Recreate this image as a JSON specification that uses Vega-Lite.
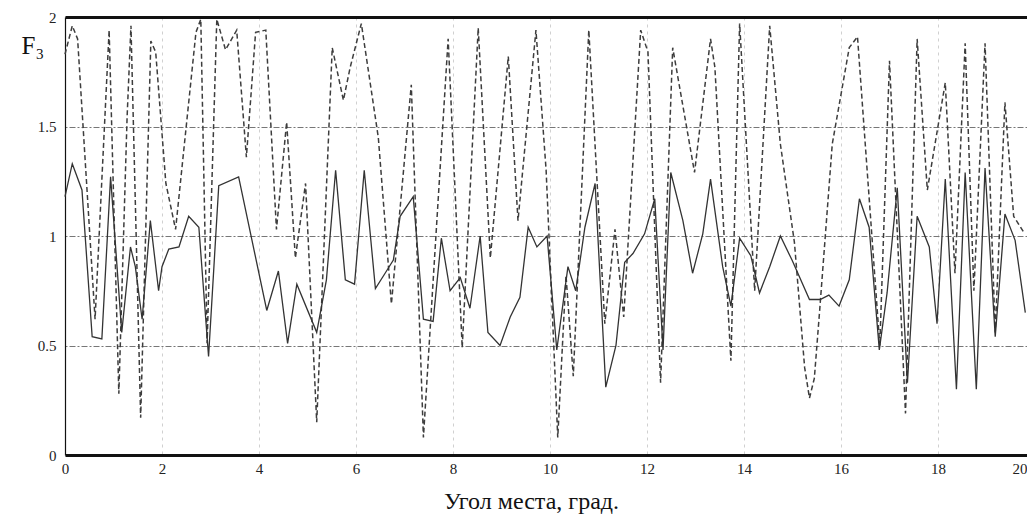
{
  "$schema": "https://vega.github.io/schema/vega-lite/v6.json",
  "width": 970,
  "height": 438,
  "autosize": {"type": "none"},
  "padding": {"left": 65, "top": 17, "right": 0, "bottom": 65},
  "background": "white",
  "config": {"view": {"stroke": null}},
  "datasets": {
    "solid": [
      {"x": 0, "y": 1.18}, {"x": 0.15, "y": 1.33}, {"x": 0.35, "y": 1.21}, {"x": 0.56, "y": 0.54}, {"x": 0.76, "y": 0.53},
      {"x": 0.94, "y": 1.27}, {"x": 1.17, "y": 0.56}, {"x": 1.35, "y": 0.95}, {"x": 1.45, "y": 0.86}, {"x": 1.59, "y": 0.62},
      {"x": 1.76, "y": 1.07}, {"x": 1.93, "y": 0.75}, {"x": 2.0, "y": 0.86}, {"x": 2.14, "y": 0.94}, {"x": 2.35, "y": 0.95},
      {"x": 2.55, "y": 1.09}, {"x": 2.76, "y": 1.04}, {"x": 2.96, "y": 0.45}, {"x": 3.17, "y": 1.23}, {"x": 3.58, "y": 1.27},
      {"x": 4.16, "y": 0.66}, {"x": 4.4, "y": 0.84}, {"x": 4.59, "y": 0.51}, {"x": 4.78, "y": 0.78}, {"x": 5.19, "y": 0.56},
      {"x": 5.39, "y": 0.8}, {"x": 5.58, "y": 1.3}, {"x": 5.78, "y": 0.8}, {"x": 5.97, "y": 0.78}, {"x": 6.17, "y": 1.3},
      {"x": 6.4, "y": 0.76}, {"x": 6.6, "y": 0.83}, {"x": 6.77, "y": 0.89}, {"x": 6.91, "y": 1.09}, {"x": 7.18, "y": 1.18},
      {"x": 7.39, "y": 0.62}, {"x": 7.59, "y": 0.61}, {"x": 7.76, "y": 0.99}, {"x": 7.94, "y": 0.75}, {"x": 8.15, "y": 0.81},
      {"x": 8.35, "y": 0.67}, {"x": 8.56, "y": 1.0}, {"x": 8.72, "y": 0.56}, {"x": 8.97, "y": 0.5}, {"x": 9.18, "y": 0.63},
      {"x": 9.38, "y": 0.72}, {"x": 9.55, "y": 1.04}, {"x": 9.73, "y": 0.95}, {"x": 9.94, "y": 1.0}, {"x": 10.14, "y": 0.48},
      {"x": 10.37, "y": 0.86}, {"x": 10.53, "y": 0.75}, {"x": 10.72, "y": 1.04}, {"x": 10.93, "y": 1.24}, {"x": 11.15, "y": 0.31},
      {"x": 11.36, "y": 0.5}, {"x": 11.54, "y": 0.88}, {"x": 11.71, "y": 0.92}, {"x": 11.95, "y": 1.01}, {"x": 12.16, "y": 1.17},
      {"x": 12.33, "y": 0.48}, {"x": 12.49, "y": 1.29}, {"x": 12.74, "y": 1.07}, {"x": 12.94, "y": 0.83}, {"x": 13.15, "y": 1.01},
      {"x": 13.31, "y": 1.26}, {"x": 13.56, "y": 0.86}, {"x": 13.73, "y": 0.68}, {"x": 13.91, "y": 0.99}, {"x": 14.14, "y": 0.91},
      {"x": 14.32, "y": 0.74}, {"x": 14.53, "y": 0.86}, {"x": 14.75, "y": 1.0}, {"x": 14.99, "y": 0.89}, {"x": 15.35, "y": 0.71},
      {"x": 15.57, "y": 0.71}, {"x": 15.75, "y": 0.73}, {"x": 15.96, "y": 0.68}, {"x": 16.17, "y": 0.8}, {"x": 16.38, "y": 1.17},
      {"x": 16.58, "y": 1.04}, {"x": 16.79, "y": 0.48}, {"x": 16.95, "y": 0.74}, {"x": 17.16, "y": 1.22}, {"x": 17.37, "y": 0.33},
      {"x": 17.57, "y": 1.09}, {"x": 17.82, "y": 0.95}, {"x": 17.98, "y": 0.6}, {"x": 18.15, "y": 1.26}, {"x": 18.38, "y": 0.3},
      {"x": 18.56, "y": 1.29}, {"x": 18.79, "y": 0.3}, {"x": 18.97, "y": 1.31}, {"x": 19.18, "y": 0.54}, {"x": 19.38, "y": 1.1},
      {"x": 19.59, "y": 0.98}, {"x": 19.8, "y": 0.65}
    ],
    "dashed": [
      {"x": 0, "y": 1.83}, {"x": 0.15, "y": 1.96}, {"x": 0.26, "y": 1.9}, {"x": 0.62, "y": 0.62}, {"x": 0.91, "y": 1.94},
      {"x": 1.11, "y": 0.28}, {"x": 1.28, "y": 1.54}, {"x": 1.36, "y": 1.96}, {"x": 1.56, "y": 0.17}, {"x": 1.77, "y": 1.89},
      {"x": 1.87, "y": 1.84}, {"x": 2.08, "y": 1.24}, {"x": 2.28, "y": 1.03}, {"x": 2.7, "y": 1.93}, {"x": 2.8, "y": 1.99},
      {"x": 2.93, "y": 0.51}, {"x": 3.13, "y": 1.99}, {"x": 3.31, "y": 1.85}, {"x": 3.54, "y": 1.94}, {"x": 3.74, "y": 1.36},
      {"x": 3.93, "y": 1.93}, {"x": 4.14, "y": 1.94}, {"x": 4.36, "y": 1.03}, {"x": 4.57, "y": 1.52}, {"x": 4.75, "y": 0.9},
      {"x": 4.96, "y": 1.24}, {"x": 5.19, "y": 0.15}, {"x": 5.51, "y": 1.86}, {"x": 5.74, "y": 1.62}, {"x": 5.88, "y": 1.77},
      {"x": 6.11, "y": 1.97}, {"x": 6.46, "y": 1.45}, {"x": 6.73, "y": 0.69}, {"x": 7.14, "y": 1.69}, {"x": 7.39, "y": 0.08},
      {"x": 7.9, "y": 1.9}, {"x": 8.19, "y": 0.49}, {"x": 8.52, "y": 1.95}, {"x": 8.77, "y": 0.9}, {"x": 9.14, "y": 1.82},
      {"x": 9.34, "y": 1.07}, {"x": 9.71, "y": 1.94}, {"x": 9.92, "y": 1.3}, {"x": 10.16, "y": 0.08}, {"x": 10.33, "y": 0.82},
      {"x": 10.48, "y": 0.36}, {"x": 10.8, "y": 1.94}, {"x": 11.13, "y": 0.6}, {"x": 11.34, "y": 1.03}, {"x": 11.52, "y": 0.63},
      {"x": 11.87, "y": 1.94}, {"x": 12.02, "y": 1.84}, {"x": 12.28, "y": 0.33}, {"x": 12.53, "y": 1.86}, {"x": 12.98, "y": 1.29},
      {"x": 13.31, "y": 1.9}, {"x": 13.4, "y": 1.77}, {"x": 13.73, "y": 0.43}, {"x": 13.91, "y": 1.97}, {"x": 14.22, "y": 0.75},
      {"x": 14.53, "y": 1.96}, {"x": 14.75, "y": 1.42}, {"x": 15.04, "y": 0.97}, {"x": 15.25, "y": 0.4}, {"x": 15.35, "y": 0.26},
      {"x": 15.45, "y": 0.35}, {"x": 15.56, "y": 0.66}, {"x": 15.82, "y": 1.42}, {"x": 16.17, "y": 1.86}, {"x": 16.34, "y": 1.91},
      {"x": 16.8, "y": 0.5}, {"x": 17.0, "y": 1.8}, {"x": 17.33, "y": 0.19}, {"x": 17.57, "y": 1.9}, {"x": 17.78, "y": 1.21},
      {"x": 18.15, "y": 1.7}, {"x": 18.35, "y": 0.83}, {"x": 18.56, "y": 1.88}, {"x": 18.74, "y": 0.75}, {"x": 18.97, "y": 1.88},
      {"x": 19.18, "y": 0.56}, {"x": 19.38, "y": 1.61}, {"x": 19.56, "y": 1.09}, {"x": 19.76, "y": 1.02}
    ]
  },
  "encoding": {
    "x": {
      "field": "x", "type": "quantitative",
      "scale": {"domain": [0, 20], "nice": false, "zero": false},
      "axis": {
        "values": [0, 2, 4, 6, 8, 10, 12, 14, 16, 18, 20],
        "title": "Угол места, град.",
        "titleFont": "Liberation Serif", "titleFontSize": 24, "titleFontWeight": "normal", "titleColor": "#111",
        "titleX": 466, "titleY": 53, "titleAlign": "center", "titleBaseline": "alphabetic", "titleAnchor": null,
        "labelFont": "Liberation Serif", "labelFontSize": 15, "labelColor": "#222", "labelPadding": 6,
        "labelFlush": false,
        "labelAlign": {"condition": {"test": "datum.value == 20", "value": "right"}, "value": "center"},
        "labelOffset": {"condition": {"test": "datum.value == 20", "value": -8}, "value": 0},
        "ticks": false, "domain": false,
        "grid": true, "gridColor": "#aaaaaa", "gridDash": [3, 4], "gridWidth": 0.8, "gridOpacity": 0.7
      }
    },
    "y": {
      "field": "y", "type": "quantitative",
      "scale": {"domain": [0, 2], "nice": false},
      "axis": {
        "values": [0, 0.5, 1, 1.5, 2],
        "format": ".1~f",
        "title": "F₃",
        "titleFont": "Liberation Serif", "titleFontSize": 25, "titleFontWeight": "normal", "titleColor": "#111",
        "titleAngle": 0, "titleX": -44, "titleY": 28, "titleAlign": "left", "titleBaseline": "middle",
        "labelFont": "Liberation Serif", "labelFontSize": 15, "labelColor": "#222", "labelPadding": 9,
        "ticks": false,
        "domain": true, "domainColor": "#111", "domainWidth": 1.2,
        "grid": true,
        "gridColor": {"condition": {"test": "datum.value == 0 || datum.value == 2", "value": "#111"}, "value": "#777777"},
        "gridWidth": {"condition": {"test": "datum.value == 0 || datum.value == 2", "value": 3}, "value": 1},
        "gridDash": {"condition": {"test": "datum.value == 0 || datum.value == 2", "value": []}, "value": [2, 2, 6, 2]}
      }
    }
  },
  "layer": [
    {
      "data": {"name": "dashed"},
      "mark": {"type": "line", "color": "#3d3d3d", "strokeWidth": 1.5, "strokeDash": [5, 3]}
    },
    {
      "data": {"name": "solid"},
      "mark": {"type": "line", "color": "#333333", "strokeWidth": 1.3}
    }
  ]
}
